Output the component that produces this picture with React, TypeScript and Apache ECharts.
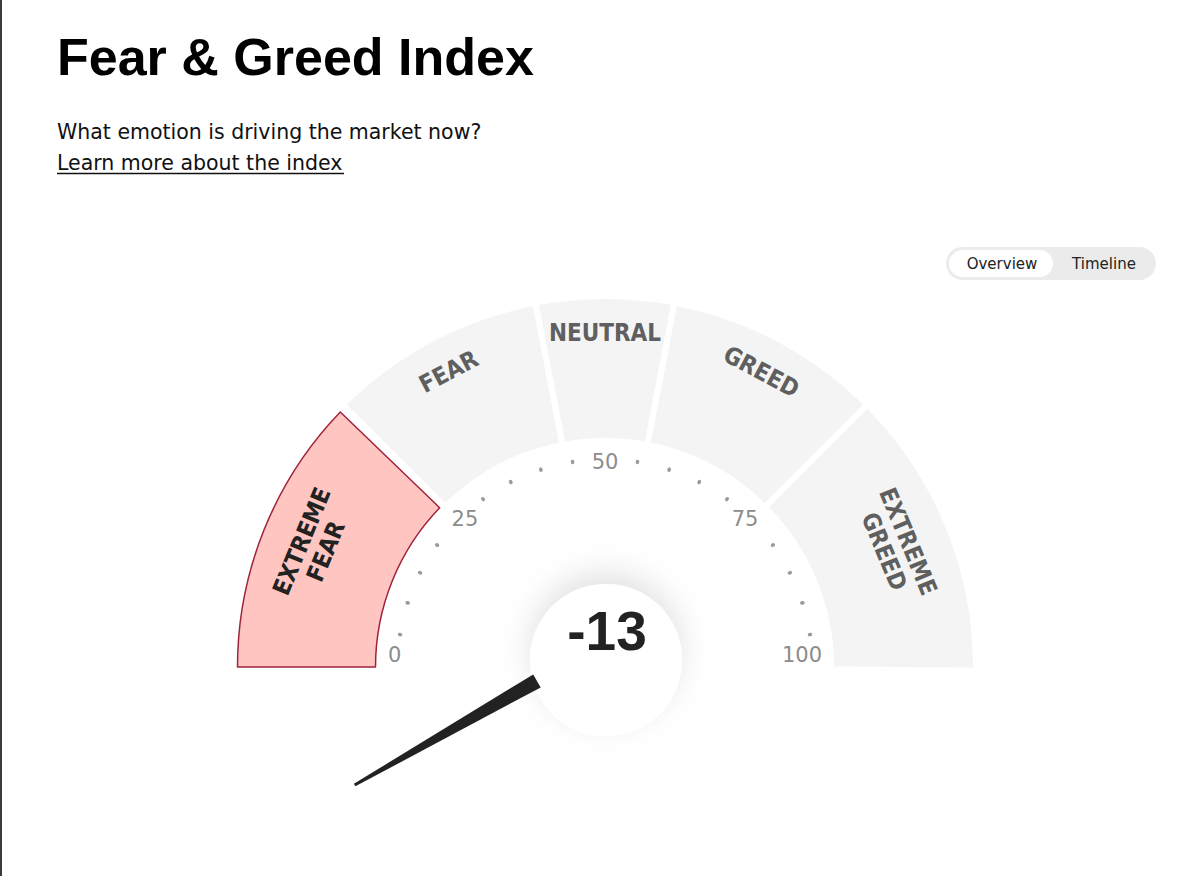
import React, { useEffect, useRef } from 'react';
import * as echarts from 'echarts';

// ---- data ----
const segmentNames = ['EXTREME\nFEAR', 'FEAR', 'NEUTRAL', 'GREED', 'EXTREME\nGREED'];
const segmentBounds = [0, 25, 44, 56, 75, 100];
const scaleMin = 0;
const scaleMax = 100;
const scaleSplits = 4; // labels 0, 25, 50, 75, 100
const currentValue = -13;
const activeSegment = 0; // EXTREME FEAR
const toggleLabels = ['Overview', 'Timeline'];
const titleText = 'Fear & Greed Index';
const subtitleText = 'What emotion is driving the market now?';
const linkText = 'Learn more about the index';

export default function App() {
  const ref = useRef<HTMLDivElement>(null);

  useEffect(() => {
    const chart = echarts.init(ref.current!, null, { renderer: 'svg' });
    const center = [605, 667];
    const spans = segmentNames.map((_, i) => segmentBounds[i + 1] - segmentBounds[i]);
    const transparent = 'rgba(0,0,0,0)';
    const bottomFix = 0.33; // compensates the white gap stroke at the bottom edge
    const condensed = '"Liberation Sans Narrow", "DejaVu Sans Condensed", "Roboto Condensed", sans-serif';
    const tickFont = '"DejaVu Sans", sans-serif';

    const bandData: any[] = spans.map((v, i) => ({
      value: i === spans.length - 1 ? v + bottomFix : v,
      name: segmentNames[i],
      itemStyle:
        i === activeSegment
          ? { color: transparent, borderWidth: 0 }
          : { color: '#f4f4f4', borderColor: '#ffffff', borderWidth: 6 },
    }));
    bandData.push({ value: scaleMax - bottomFix, name: '', itemStyle: { color: transparent, borderWidth: 0 } });

    const activeData: any[] = [
      {
        value: spans[activeSegment] - 0.6,
        name: segmentNames[activeSegment],
        itemStyle: { color: '#ffc6c1', borderColor: '#a0233c', borderWidth: 1.5 },
      },
      { value: 2 * scaleMax - (spans[activeSegment] - 0.6), name: '', itemStyle: { color: transparent, borderWidth: 0 } },
    ];

    const makeLabelData = (multiLine: boolean) => {
      const d: any[] = spans.map((v, i) => {
        const isMulti = segmentNames[i].indexOf('\n') >= 0;
        return {
          value: v,
          name: segmentNames[i],
          itemStyle: { color: transparent, borderWidth: 0 },
          label: {
            show: isMulti === multiLine,
            color: i === activeSegment ? '#222222' : '#5f5f5f',
          },
        };
      });
      d.push({ value: scaleMax, name: '', itemStyle: { color: transparent }, label: { show: false } });
      return d;
    };

    const labelSeries = (radius: number[], multiLine: boolean) => ({
      type: 'pie', silent: true, center, radius, startAngle: 180, clockwise: true,
      labelLine: { show: false }, emphasis: { disabled: true },
      label: {
        show: true, position: 'inside', rotate: 'tangential', formatter: '{b}',
        fontFamily: condensed, fontWeight: 'bold', fontSize: 24, lineHeight: 26, align: 'center',
      },
      data: makeLabelData(multiLine),
    });

    const tickColorStops: any[] = [
      [0.001, transparent],
      [0.249, '#9a9a9a'],
      [0.251, transparent],
      [0.499, '#9a9a9a'],
      [0.501, transparent],
      [0.749, '#9a9a9a'],
      [0.751, transparent],
      [0.999, '#9a9a9a'],
      [1, transparent],
    ];

    const option: any = {
      animation: false,
      backgroundColor: '#ffffff',
      graphic: [
        { type: 'rect', shape: { x: 0, y: 0, width: 2, height: 876 }, style: { fill: '#3a3a3a' } },
        {
          type: 'text', x: 57, y: 57,
          style: { text: titleText, fontFamily: '"Liberation Sans", Arial, sans-serif', fontSize: 52, fontWeight: 'bold', fill: '#000', align: 'left', verticalAlign: 'middle' },
        },
        {
          type: 'text', x: 57, y: 132,
          style: { text: subtitleText, fontFamily: '"DejaVu Sans", sans-serif', fontSize: 20.5, fill: '#111', align: 'left', verticalAlign: 'middle' },
        },
        {
          type: 'text', x: 57, y: 162.5,
          style: { text: linkText, fontFamily: '"DejaVu Sans", sans-serif', fontSize: 20.5, fill: '#111', align: 'left', verticalAlign: 'middle' },
        },
        { type: 'line', shape: { x1: 57, y1: 173.5, x2: 344, y2: 173.5 }, style: { stroke: '#111', lineWidth: 1.5 } },
        { type: 'rect', shape: { x: 946, y: 247, width: 210, height: 33, r: 16.5 }, style: { fill: '#ebebeb' } },
        { type: 'rect', shape: { x: 949, y: 250, width: 104, height: 27, r: 13.5 }, style: { fill: '#ffffff' } },
        {
          type: 'text', x: 1002, y: 263.5,
          style: { text: toggleLabels[0], fontFamily: '"DejaVu Sans", sans-serif', fontSize: 15, fill: '#222', align: 'center', verticalAlign: 'middle' },
        },
        {
          type: 'text', x: 1104, y: 263.5,
          style: { text: toggleLabels[1], fontFamily: '"DejaVu Sans", sans-serif', fontSize: 15, fill: '#222', align: 'center', verticalAlign: 'middle' },
        },
        {
          type: 'circle', z: 1, shape: { cx: 606, cy: 660, r: 76 },
          style: { fill: '#ffffff', shadowBlur: 30, shadowColor: 'rgba(0,0,0,0.11)', shadowOffsetY: -12 },
        },
      ],
      series: [
        {
          type: 'pie', silent: true, center, radius: [226, 371], startAngle: 180, clockwise: true,
          label: { show: false }, labelLine: { show: false }, emphasis: { disabled: true },
          data: bandData,
        },
        {
          type: 'pie', silent: true, center, radius: [229.5, 367.5], startAngle: 180, clockwise: true,
          label: { show: false }, labelLine: { show: false }, emphasis: { disabled: true },
          data: activeData,
        },
        labelSeries([296, 366], false),
        labelSeries([258, 366], true),
        {
          type: 'gauge', silent: true, center, radius: 217, startAngle: 180, endAngle: 0,
          min: scaleMin, max: scaleMax, splitNumber: scaleSplits,
          axisLine: { show: false, lineStyle: { width: 0, color: tickColorStops } },
          splitLine: { show: false, length: 0, distance: 0 },
          axisTick: { show: true, splitNumber: 5, length: 1, distance: 9, lineStyle: { color: 'auto', width: 3.5, cap: 'round' } },
          axisLabel: {
            show: true, distance: 0, color: '#8c8c8c', fontSize: 21, fontFamily: tickFont, lineHeight: 24,
            formatter: (v: number) => {
              if (v === scaleMin || v === scaleMax) return `{n|${v}}\n{n| }`;
              if (v === (scaleMin + scaleMax) / 2) return `{n|${v}}`;
              return `{sp| }\n{n|${v}}`;
            },
            rich: {
              n: { color: '#8c8c8c', fontSize: 21, fontFamily: tickFont, lineHeight: 24 },
              sp: { fontSize: 4, lineHeight: 10 },
            },
          },
          pointer: { show: false }, anchor: { show: false }, title: { show: false }, detail: { show: false },
          data: [{ value: 0 }],
        },
        {
          type: 'gauge', silent: true, center, radius: 276, startAngle: 278.4, endAngle: 0,
          min: -50, max: scaleMax,
          axisLine: { show: false, lineStyle: { width: 0 } },
          splitLine: { show: false }, axisTick: { show: false }, axisLabel: { show: false },
          pointer: {
            show: true, icon: 'path://M6 0 L9 0 L15 210 L0 210 Z', length: 210, width: 15,
            offsetCenter: [21.7, -66], itemStyle: { color: '#222222' },
          },
          anchor: { show: false }, title: { show: false },
          detail: {
            show: true, offsetCenter: [2, -36], formatter: '{value}', color: '#222222',
            fontSize: 55, fontWeight: 'bold', fontFamily: '"Liberation Sans", Arial, sans-serif',
          },
          data: [{ value: currentValue }],
        },
      ],
    };
    chart.setOption(option);
    return () => chart.dispose();
  }, []);

  return <div ref={ref} style={{ position: 'fixed', left: 0, top: 0, width: 1200, height: 876, background: '#fff' }} />;
}
